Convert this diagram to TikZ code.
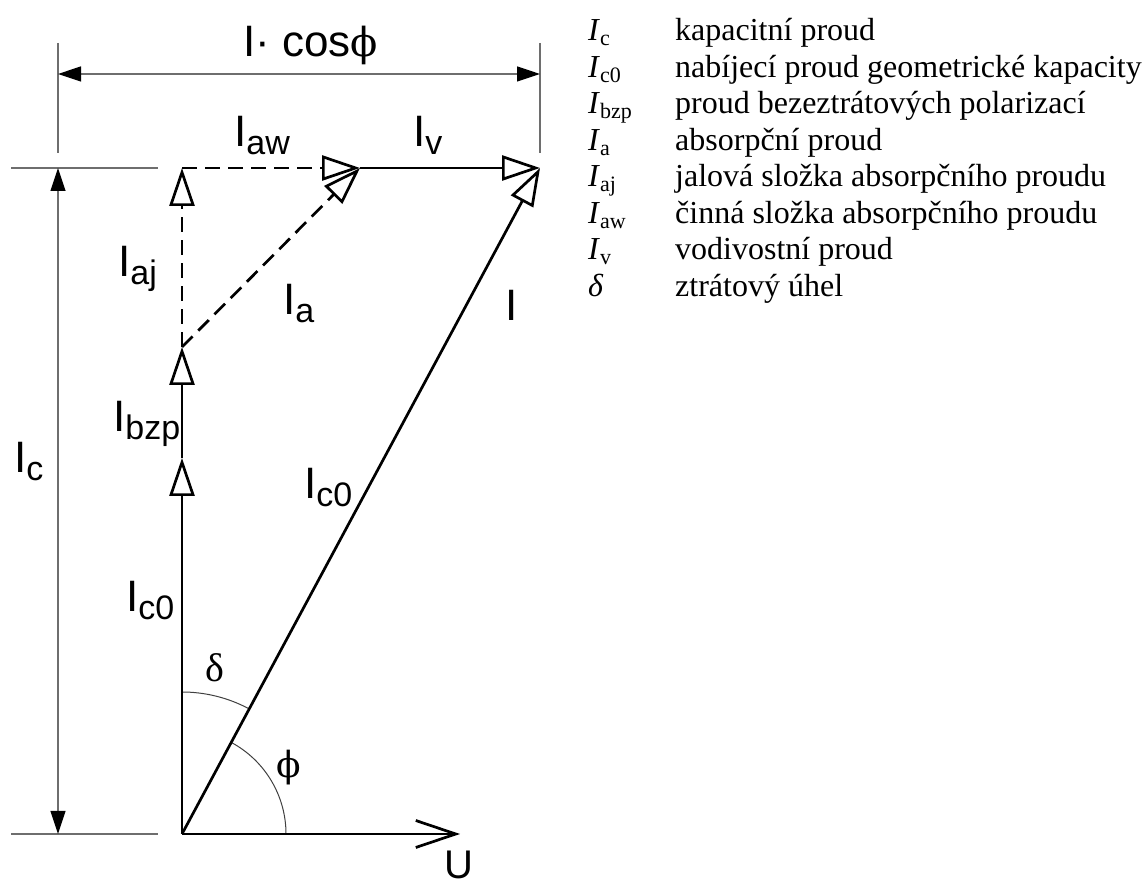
\documentclass[tikz,border=0pt]{standalone}
\usepackage{fontspec}
\setmainfont{Liberation Serif}
\newfontfamily\lsans{Liberation Sans}
\newfontfamily\dvs{DejaVu Serif}
\usetikzlibrary{arrows.meta}
\definecolor{dimgray}{RGB}{110,110,110}
\newcommand{\lbl}[1]{\lsans\fontsize{44}{44}\selectfont I\raisebox{-8pt}{\fontsize{34}{34}\selectfont #1}}
\newcommand{\leg}[1]{\fontsize{32}{32}\selectfont\textit{I}\raisebox{-5pt}{\fontsize{22}{22}\selectfont #1}}
\begin{document}
\begin{tikzpicture}[x=1pt,y=1pt,
  vec/.style={line width=2.7pt,-{Triangle[open,length=38pt,width=25pt]}},
  dsh/.style={dash pattern=on 15pt off 8pt},
  dimline/.style={draw=dimgray,line width=1.2pt},
  dimarr/.style={dimline,{Triangle[length=23pt,width=15pt,color=black]}-{Triangle[length=23pt,width=15pt,color=black]}},
  lab/.style={inner sep=0pt,anchor=base west},
  arcline/.style={draw=black!75,line width=1pt},
  lg/.style={inner sep=0pt,anchor=base west,font=\fontsize{32}{32}\selectfont}
]
\useasboundingbox (0,0) rectangle (1144,889);
% main points
\coordinate (O) at (182,55);
\coordinate (C1) at (182,431);
\coordinate (C2) at (182,542);
\coordinate (T) at (182,721);
\coordinate (M) at (360,721);
\coordinate (P) at (540,721);
\coordinate (Ue) at (460,55);
% dimension points
\coordinate (DL) at (58,815);
\coordinate (DR) at (540,815);
\coordinate (ELt) at (58,846);
\coordinate (ELb) at (58,736);
\coordinate (ERt) at (540,846);
\coordinate (ERb) at (540,736);
\coordinate (VT) at (58,721);
\coordinate (VB) at (58,55);
\coordinate (HTa) at (11,721);
\coordinate (HTb) at (158,721);
\coordinate (HBa) at (11,55);
\coordinate (HBb) at (158,55);
% dimensions
\draw[dimline] (ELt) -- (ELb);
\draw[dimline] (ERt) -- (ERb);
\draw[dimline] (HTa) -- (HTb);
\draw[dimline] (HBa) -- (HBb);
\draw[dimarr] (DL) -- (DR);
\draw[dimarr] (VT) -- (VB);
% angle arcs
\draw[arcline] (182,197) arc[start angle=90,end angle=61.74,radius=142pt];
\draw[arcline] (286,55) arc[start angle=0,end angle=61.74,radius=104pt];
% vectors
\draw[vec] (O) -- (C1);
\draw[vec] (C1) -- (C2);
\draw[vec,dsh] (C2) -- (T);
\draw[vec,dsh] (T) -- (M);
\draw[vec,dsh] (C2) -- (M);
\draw[vec] (M) -- (P);
\draw[vec] (O) -- (P);
\draw[line width=2.7pt,-{Straight Barb[length=40pt,width=27pt]}] (O) -- (Ue);
% labels
\node[lab] (lcos) at (243,832) {\lsans\fontsize{44}{44}\selectfont I· cos{\dvs\fontsize{40}{40}\selectfont ϕ}};
\node[lab] (law) at (234,742) {\lbl{aw}};
\node[lab] (lv) at (413,742) {\lbl{v}};
\node[lab] (laj) at (118,612) {\lbl{aj}};
\node[lab] (la) at (283,574) {\lbl{a}};
\node[lab] (lI) at (505,568) {\lsans\fontsize{44}{44}\selectfont I};
\node[lab] (lbzp) at (113,457) {\lbl{bzp}};
\node[lab] (lc) at (14,416) {\lbl{c}};
\node[lab] (lcr) at (304,390) {\lbl{c0}};
\node[lab] (lcl) at (126,277) {\lbl{c0}};
\node (ld) at (215,221) {\fontsize{40}{40}\selectfont δ};
\node (lphi) at (289,121) {\dvs\fontsize{36}{36}\selectfont ϕ};
\node[lab] (lU) at (444,10) {\lsans\fontsize{40}{40}\selectfont U};
% legend
\node[lg] (s1) at (588,848) {\leg{c}};
\node[lg] (d1) at (675,848) {kapacitní proud};
\node[lg] (s2) at (588,811.5) {\leg{c0}};
\node[lg] (d2) at (675,811.5) {nabíjecí proud geometrické kapacity};
\node[lg] (s3) at (588,775) {\leg{bzp}};
\node[lg] (d3) at (675,775) {proud bezeztrátových polarizací};
\node[lg] (s4) at (588,738.5) {\leg{a}};
\node[lg] (d4) at (675,738.5) {absorpční proud};
\node[lg] (s5) at (588,702) {\leg{aj}};
\node[lg] (d5) at (675,702) {jalová složka absorpčního proudu};
\node[lg] (s6) at (588,665.5) {\leg{aw}};
\node[lg] (d6) at (675,665.5) {činná složka absorpčního proudu};
\node[lg] (s7) at (588,629) {\leg{v}};
\node[lg] (d7) at (675,629) {vodivostní proud};
\node[lg] (s8) at (588,592.5) {\textit{δ}};
\node[lg] (d8) at (675,592.5) {ztrátový úhel};
\end{tikzpicture}
\end{document}
